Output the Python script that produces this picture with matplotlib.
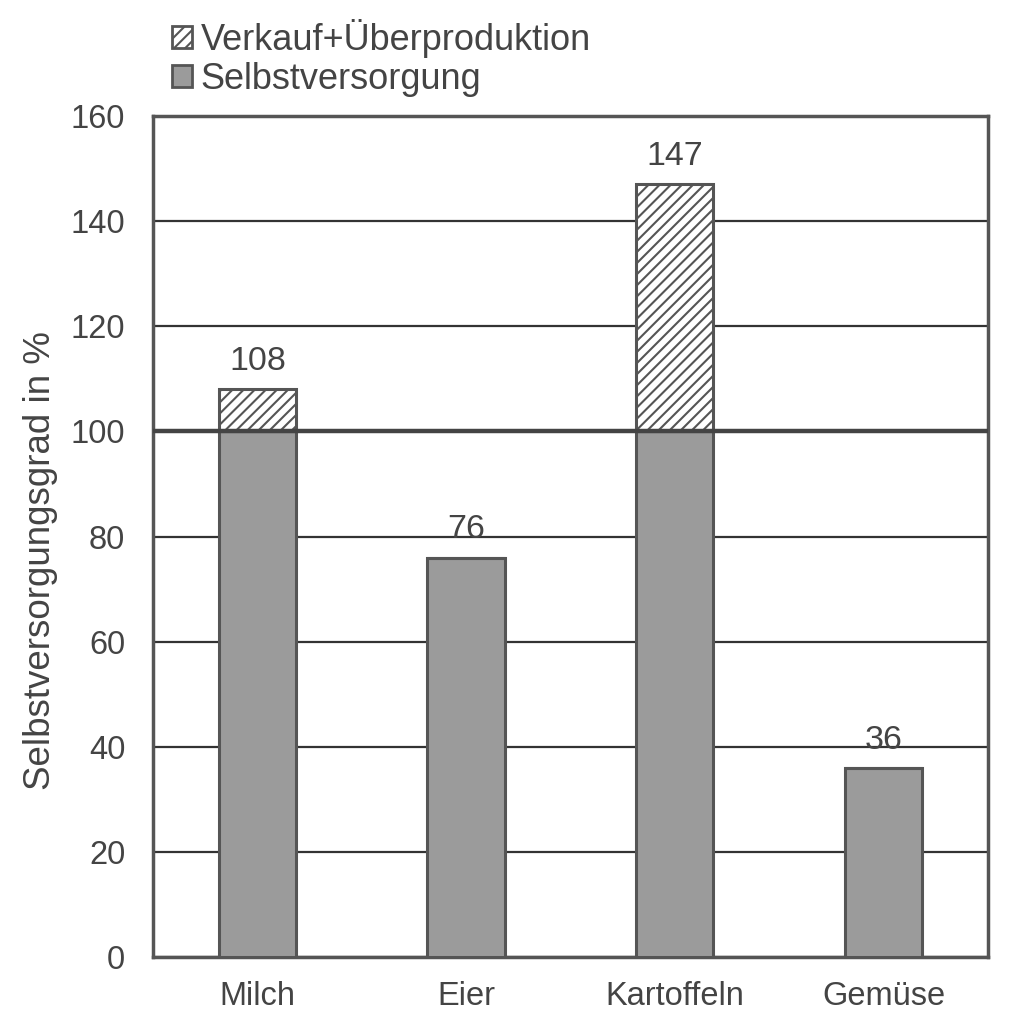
import numpy as np
import matplotlib
matplotlib.use("Agg")
import matplotlib.pyplot as plt
from matplotlib.patches import Patch

plt.rcParams['font.family'] = ['Liberation Sans', 'DejaVu Sans']
plt.rcParams['hatch.linewidth'] = 1.5

# Daten
kategorien = ['Milch', 'Eier', 'Kartoffeln', 'Gemüse']
gesamt = [108, 76, 147, 36]
selbst = [min(v, 100) for v in gesamt]
ueber = [max(v - 100, 0) for v in gesamt]

text_farbe = '#444444'
rand_farbe = '#555555'

fig = plt.figure(figsize=(10.17, 10.24), dpi=100)
ax = fig.add_axes([0.1504, 0.0654, 0.8211, 0.8213])

x = np.arange(len(kategorien))
breite = 0.37

ax.bar(x, selbst, width=breite, color='#9b9b9b', edgecolor=rand_farbe,
       linewidth=2.2, zorder=3)
ax.bar(x, ueber, width=breite, bottom=selbst, color='white',
       edgecolor=rand_farbe, hatch='///', linewidth=2.2, zorder=3)

# Werte über den Balken
for xi, v in zip(x, gesamt):
    ax.text(xi, v + 2.3, str(v), ha='center', va='bottom',
            fontsize=24.5, color=text_farbe)

# 100-%-Linie
ax.axhline(100, color='#444444', linewidth=3.2, zorder=5)

ax.set_xlim(-0.5, len(kategorien) - 0.5)
ax.set_ylim(0, 160)
ax.set_yticks(np.arange(0, 161, 20))
ax.set_xticks(x)
ax.set_xticklabels(kategorien)
ax.tick_params(axis='both', length=0, labelsize=23.5, colors=text_farbe)
ax.tick_params(axis='x', pad=17)
ax.tick_params(axis='y', pad=20)
ax.yaxis.grid(True, color='#333333', linewidth=1.6, zorder=0)
ax.set_axisbelow(True)

for s in ax.spines.values():
    s.set_color(rand_farbe)
    s.set_linewidth(2.5)

ax.set_ylabel('Selbstversorgungsgrad in %', fontsize=26.5, color=text_farbe)
ax.yaxis.set_label_coords(-0.114, 0.472)

handles = [
    Patch(facecolor='white', edgecolor=rand_farbe, hatch='///',
          linewidth=2, label='Verkauf+Überproduktion'),
    Patch(facecolor='#9b9b9b', edgecolor=rand_farbe, linewidth=2,
          label='Selbstversorgung'),
]
leg = fig.legend(handles=handles, loc='upper left',
                 bbox_to_anchor=(0.144, 1.006), frameon=False,
                 fontsize=26, handlelength=0.55, handleheight=0.55,
                 handletextpad=0.25, labelspacing=0.1, borderpad=0.2)
for t in leg.get_texts():
    t.set_color(text_farbe)

fig.savefig('out.png', dpi=100)
